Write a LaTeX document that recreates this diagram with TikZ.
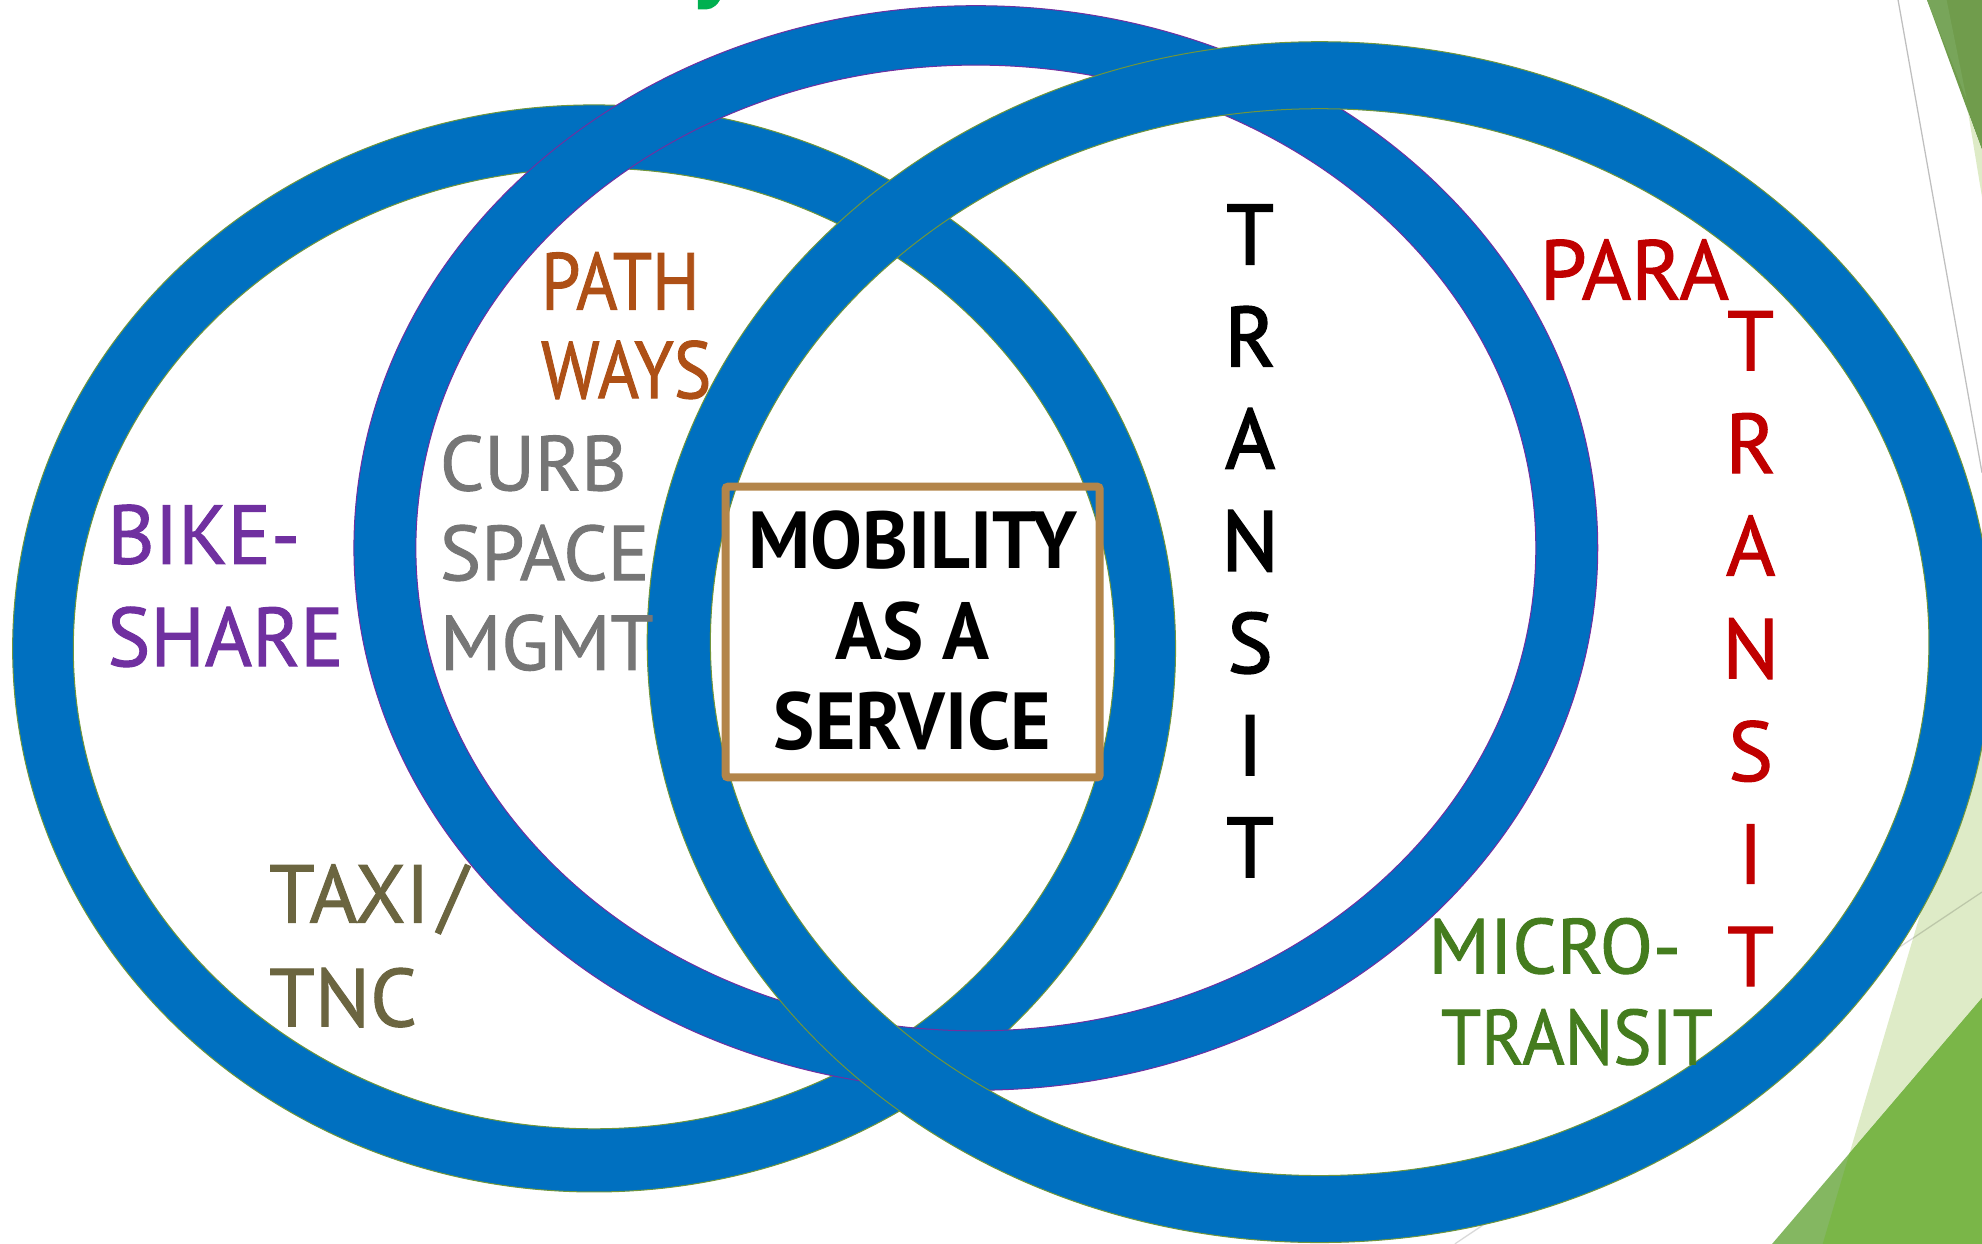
\documentclass[tikz,border=0pt]{standalone}
\usepackage{fontspec}
\usepackage{graphicx}
\setmainfont{PT Sans}
\newfontfamily\lblfont[FakeBold=1.2]{PT Sans}
\newfontfamily\heavyfont[FakeBold=2.2]{PT Sans}
\definecolor{ringblue}{RGB}{0,112,192}
\definecolor{ringolive}{RGB}{112,150,60}
\definecolor{ringpurple}{RGB}{112,48,160}
\definecolor{pathcol}{RGB}{174,80,22}
\definecolor{curbcol}{RGB}{118,118,118}
\definecolor{bikecol}{RGB}{112,48,160}
\definecolor{taxicol}{RGB}{107,101,64}
\definecolor{boxcol}{RGB}{179,133,74}
\definecolor{paracol}{RGB}{192,0,0}
\definecolor{microcol}{RGB}{68,124,30}
\definecolor{dkgreenA}{RGB}{112,156,76}
\definecolor{dkgreenB}{RGB}{120,165,90}
\definecolor{ltgreen}{RGB}{222,235,199}
\definecolor{midgreen}{RGB}{132,183,97}
\definecolor{dkgreenC}{RGB}{122,182,72}
\definecolor{topgreen}{RGB}{0,176,80}
\newcommand\leftlines[2]{\vtop{\baselineskip=#1\lineskiplimit=-1000pt\halign{##\hfil\cr#2\crcr}}}
\newcommand\midlines[2]{\vtop{\baselineskip=#1\lineskiplimit=-1000pt\halign{\hfil##\hfil\cr#2\crcr}}}
\begin{document}
\begin{tikzpicture}[x=1pt,y=-1pt,
  ringfill/.style={fill=ringblue,even odd rule},
  ringedge/.style={draw=#1,line width=0.8pt},
  lbl/.style={inner sep=0pt,outer sep=0pt,anchor=base west},
  clbl/.style={inner sep=0pt,outer sep=0pt,anchor=base},
  maasbox/.style={draw=boxcol,line width=6.3pt,rounded corners=2pt}]
\useasboundingbox (0,0) rectangle (1568,984);
\clip (0,0) rectangle (1568,984);
% decorative background shapes
\fill[dkgreenA] (1524.5,0) -- (1568,0) -- (1568,118.7) -- cycle;
\fill[dkgreenB] (1524.5,0) -- (1540,0) -- (1556,79) -- cycle;
\fill[ltgreen] (1557,89) -- (1568,156) -- (1568,119) -- cycle;
\draw[black!25,line width=1pt] (1501.6,0) -- (1568,374);
\fill[ltgreen] (1442,984) -- (1568,984) -- (1568,557.8) -- cycle;
\fill[midgreen] (1402,984) -- (1568,984) -- (1568,789.6) -- cycle;
\begin{scope}
\clip (1442,984) -- (1568,984) -- (1568,557.8) -- cycle;
\fill[dkgreenC] (1402,984) -- (1568,984) -- (1568,789.6) -- cycle;
\end{scope}
\draw[black,opacity=0.15,line width=1pt] (1151,984) -- (1568,705.7);
\fill[topgreen] (552,0) -- (552,7.4) -- (559,7.4) .. controls (564,7.4) and (568,3) .. (569.6,0) -- cycle;
% rings
\fill[ringfill] (470,513) ellipse (460 and 430) (470,513) ellipse (412 and 380);
\draw[ringedge=ringolive] (470,513) ellipse (460 and 430) (470,513) ellipse (412 and 380);
\fill[ringfill] (772,433.5) ellipse (492 and 429) (772,433.5) ellipse (443 and 382);
\draw[ringedge=ringpurple] (772,433.5) ellipse (492 and 429) (772,433.5) ellipse (443 and 382);
\fill[ringfill] (1044,508) ellipse (532 and 475) (1044,508) ellipse (482 and 422);
\draw[ringedge=ringolive] (1044,508) ellipse (532 and 475) (1044,508) ellipse (482 and 422);
% box
\draw[maasbox] (574,385) rectangle (870,615);
% labels
\node[lbl,text=pathcol,font=\lblfont\fontsize{64}{64}\selectfont] (pathways) at (428,245) {\scalebox{0.875}[1]{\leftlines{70pt}{PATH\cr WAYS}}};
\node[lbl,text=curbcol,font=\lblfont\fontsize{61.5}{61.5}\selectfont] (curb) at (348,388) {\leftlines{71pt}{CURB\cr SPACE\cr MGMT}};
\node[lbl,text=bikecol,font=\lblfont\fontsize{66}{66}\selectfont] (bike) at (85,446) {\scalebox{0.97}[1]{\leftlines{81pt}{BIKE-\cr SHARE}}};
\node[lbl,text=taxicol,font=\lblfont\fontsize{65}{65}\selectfont] (taxi) at (213,730) {\leftlines{82pt}{TAXI\kern7pt/\cr TNC}};
\node[clbl,text=black,font=\bfseries\fontsize{64}{64}\selectfont] (maas) at (722,450) {\scalebox{0.96}[1]{\midlines{71.5pt}{MOBILITY\cr AS A\cr SERVICE}}};
\node[clbl,text=black,font=\heavyfont\fontsize{67}{67}\selectfont] (transit) at (989,209) {\midlines{80.8pt}{T\cr R\cr A\cr N\cr S\cr I\cr T}};
\node[lbl,text=paracol,font=\lblfont\fontsize{67}{67}\selectfont] (para) at (1218,237) {PARA};
\node[clbl,text=paracol,font=\lblfont\fontsize{67}{67}\selectfont] (paratransit) at (1385,293) {\midlines{81.2pt}{T\cr R\cr A\cr N\cr S\cr I\cr T}};
\node[lbl,text=microcol,font=\lblfont\fontsize{61.5}{61.5}\selectfont] (micro) at (1130,770) {\leftlines{72pt}{MICRO-\cr \hspace{10pt}\scalebox{0.93}[1]{TRANSIT}}};
\end{tikzpicture}
\end{document}
